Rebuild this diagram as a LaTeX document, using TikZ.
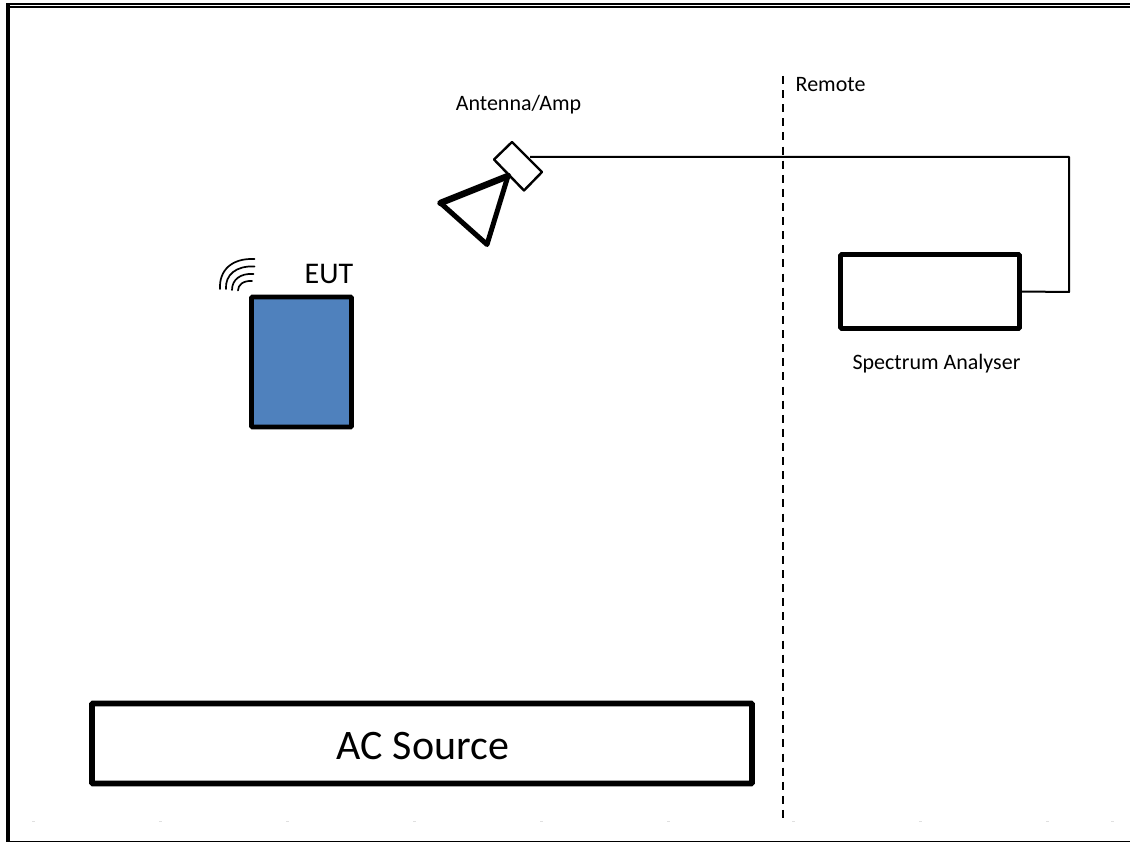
\documentclass[tikz,border=0pt]{standalone}
\usepackage{fontspec}
\setmainfont{Carlito}
\usetikzlibrary{calc}
\tikzset{
  box/.style={draw=black,line width=4.6pt,rounded corners=1pt,fill=white,inner sep=0pt},
  lbl/.style={inner sep=0pt,text=black,anchor=base,font=\fontsize{22}{24}\selectfont},
  wire/.style={draw=black,line width=2pt},
  wave/.style={draw=black,line width=1.7pt,line cap=round},
  frame/.style={fill=black,draw=none},
  tick/.style={fill=black!12,draw=none}
}
\begin{document}
\begin{tikzpicture}[x=1pt,y=-1pt]
\useasboundingbox (0,0) rectangle (1130,842);
% page frame
\fill[frame] (6,3.3) rectangle (1130,5.4);
\fill[frame] (8,6) rectangle (1130,7.8);
\fill[frame] (6,3.3) rectangle (10,842);
\fill[frame] (10,841) rectangle (1130,842);
% faint ticks
\foreach \x in {33,160,287,414,541,668,793,920,1047,1112}
  \fill[tick] (\x-1.5,821) rectangle (\x+1.5,821.8);
% boxes
\node[box,line width=5.8pt,minimum width=660pt,minimum height=80pt] (ac) at (422,743.5) {};
\node[lbl,font=\fontsize{42}{46}\selectfont] (acl) at (423,759) {AC Source};
\node[box,fill={rgb,255:red,79;green,129;blue,189},minimum width=100pt,minimum height=130pt] (eut) at (301.5,362) {};
\node[lbl,font=\fontsize{30}{32}\selectfont] (eutl) at (329,284) {EUT};
\node[box,minimum width=179pt,minimum height=74pt] (sa) at (930,291.5) {};
\node[lbl] (sal) at (936.5,370) {Spectrum Analyser};
\node[lbl] (ant) at (518.5,111) {Antenna/Amp};
\node[lbl,anchor=base west] (rem) at (795.5,92) {Remote};
% divider
\coordinate (dt) at (783,76);
\coordinate (db) at (783,818);
\draw[draw=black,line width=2pt,dash pattern=on 8pt off 6.115pt] (dt) -- (db);
% antenna amp
\coordinate (a1) at (512,142);
\coordinate (a2) at (542,172);
\coordinate (a3) at (524,190.5);
\coordinate (a4) at (494,159.5);
\coordinate (hornapex) at (508,176);
\coordinate (hornb) at (440.5,203);
\coordinate (hornc) at (487,244.5);
\coordinate (c1) at (1069,292);
\coordinate (c2) at (1069,157);
\coordinate (ampr) at (530,157);
\draw[wire,line join=round] (sa.east) -- (c1) -- (c2) -- (ampr);
\draw[draw=black,line width=2.4pt,line join=round,fill=white] (a1) -- (a2) -- (a3) -- (a4) -- cycle;
\draw[draw=black,line join=round,line width=5pt] (hornapex) -- (hornb) -- (hornc) -- cycle;
\draw[draw=black,line cap=round,line width=6.5pt] (hornapex) -- (hornb);
% wireless symbol
\draw[wave] (220,289) .. controls (219,270) and (232,258) .. (254.5,259);
\draw[wave] (226,289) .. controls (225,275) and (236,265.5) .. (254.5,266.5);
\draw[wave] (232,290) .. controls (232,280) and (240,273) .. (253.5,274);
\draw[wave] (238,290.5) .. controls (238,285) and (243,280.5) .. (252,281);
\end{tikzpicture}
\end{document}
